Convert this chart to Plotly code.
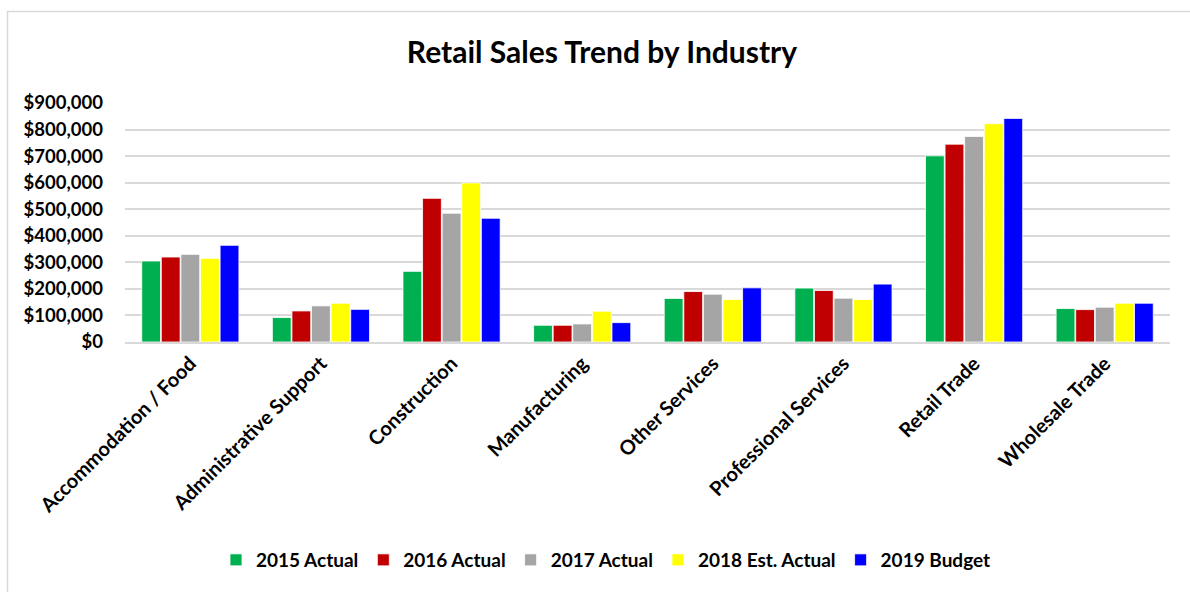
import plotly.graph_objects as go

industries = ["Accommodation / Food", "Administrative Support", "Construction",
              "Manufacturing", "Other Services", "Professional Services",
              "Retail Trade", "Wholesale Trade"]

sales_2015 = [305000, 92000, 266000, 63000, 164000, 203000, 701000, 126000]
sales_2016 = [320000, 117000, 541000, 63000, 190000, 194000, 745000, 122000]
sales_2017 = [330000, 136000, 485000, 68000, 180000, 165000, 774000, 131000]
sales_2018 = [315000, 146000, 599000, 116000, 160000, 160000, 822000, 146000]
sales_2019 = [364000, 123000, 466000, 73000, 204000, 218000, 842000, 146000]

series_names = ["2015 Actual", "2016 Actual", "2017 Actual", "2018 Est. Actual", "2019 Budget"]
series_colors = ["#00B050", "#C00000", "#A5A5A5", "#FFFF00", "#0000FF"]
series_values = [sales_2015, sales_2016, sales_2017, sales_2018, sales_2019]

y_ticks = [0, 100000, 200000, 300000, 400000, 500000, 600000, 700000, 800000, 900000]
y_tick_labels = ["$0", "$100,000", "$200,000", "$300,000", "$400,000",
                 "$500,000", "$600,000", "$700,000", "$800,000", "$900,000"]

FONT = "Lato"

fig = go.Figure()
for name, color, vals in zip(series_names, series_colors, series_values):
    fig.add_trace(go.Bar(
        x=industries, y=vals, name=name,
        marker=dict(color=color, line=dict(color="white", width=0.8)),
    ))

W, H = 1190, 592
ml, mr, mt, mb = 125, 20, 103, 250
pw, ph = W - ml - mr, H - mt - mb

# pixel -> paper coordinate helpers
def px_x(x):
    return (x - ml) / pw

def px_y(y):
    return 1 - (y - mt) / ph

# outer chart frame
fig.add_shape(type="rect", xref="paper", yref="paper",
              x0=px_x(7.5), x1=px_x(1200), y0=px_y(11.5), y1=px_y(600),
              line=dict(color="#D9D9D9", width=1.5), fillcolor="rgba(0,0,0,0)",
              layer="below")

fig.update_layout(
    width=W, height=H,
    margin=dict(l=ml, r=mr, t=mt, b=mb, autoexpand=False),
    paper_bgcolor="white", plot_bgcolor="white",
    barmode="group", bargap=0.25, bargroupgap=0.04,
    title=dict(text="<b>Retail Sales Trend by Industry</b>",
               x=602 / W, xref="container", xanchor="center",
               y=1 - 52 / H, yref="container", yanchor="middle",
               font=dict(family=FONT, size=30, color="black")),
    font=dict(family=FONT, color="black"),
    xaxis=dict(
        tickangle=-45, tickfont=dict(family=FONT, size=20, color="black", weight="bold"),
        showgrid=False, showline=True, linecolor="#D9D9D9", linewidth=2,
        ticks="", ticklen=0, automargin=False,
    ),
    yaxis=dict(
        range=[0, 900000], tickvals=y_ticks, ticktext=y_tick_labels,
        tickfont=dict(family=FONT, size=18.5, color="black", weight="bold"),
        showgrid=True, gridcolor="#D9D9D9", gridwidth=2,
        zeroline=False, showline=False, ticks="", ticklabelstandoff=21,
        automargin=False,
    ),
    legend=dict(
        orientation="h", x=px_x(606), xanchor="center", xref="paper",
        y=px_y(560), yanchor="middle",
        font=dict(family=FONT, size=19, color="black", weight="bold"),
        itemwidth=30, traceorder="normal",
    ),
)

fig.write_html("out.html")
